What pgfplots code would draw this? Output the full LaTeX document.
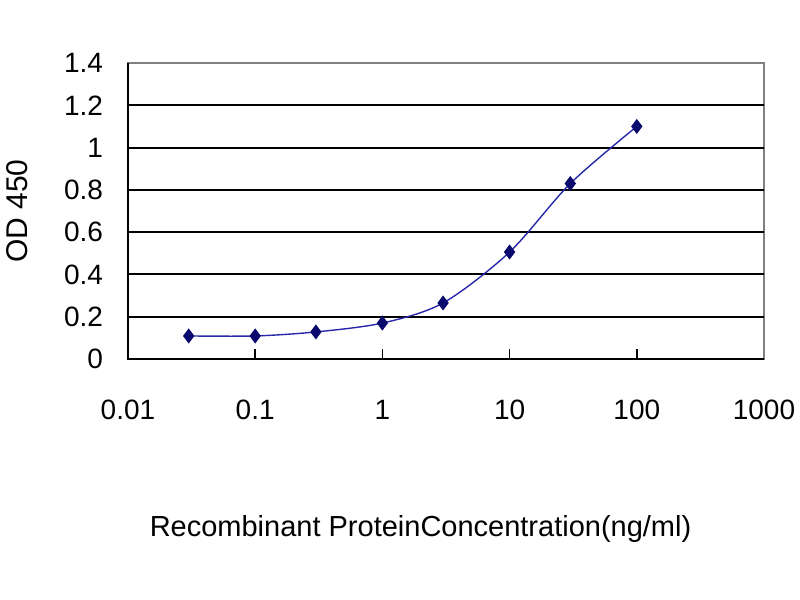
\documentclass[border=0pt]{standalone}
\usepackage{fontspec}
\setmainfont{Liberation Sans}
\usepackage{pgfplots}
\pgfplotsset{compat=1.18}
\definecolor{curve}{RGB}{40,40,170}
\definecolor{marker}{RGB}{10,10,110}
\begin{document}
\begin{tikzpicture}
\useasboundingbox (0,0) rectangle (400pt,300pt);
\begin{axis}[
    at={(64pt,120.5pt)}, anchor=south west,
    scale only axis, width=318pt, height=148pt,
    xmode=log, xmin=0.01, xmax=1000,
    ymin=0, ymax=1.4,
    xtick={0.01,0.1,1,10,100,1000},
    xticklabels={0.01,0.1,1,10,100,1000},
    ytick={0,0.2,0.4,0.6,0.8,1,1.2,1.4},
    minor tick length=0pt,
    extra y ticks={0.2,0.4,0.6,0.8,1,1.2},
    extra y tick labels={},
    extra y tick style={grid=major, tick style={draw=none}},
    major grid style={black, line width=1pt},
    major tick length=5pt,
    x tick style={black, line width=0.8pt},
    y tick style={draw=none},
    tick align=inside,
    xtick pos=bottom, ytick pos=left,
    axis line style={gray, line width=0.6pt},
    /pgf/number format/assume math mode=true,
    tick label style={font=\fontsize{14}{16}\selectfont},
    xticklabel style={yshift=-17pt},
    yticklabel style={xshift=-9pt},
    xlabel={Recombinant ProteinConcentration(ng/ml)},
    xlabel style={at={(axis description cs:0.46,0)}, anchor=center, yshift=-85pt, font=\fontsize{14.5}{16}\selectfont},
    ylabel={OD 450},
    ylabel style={at={(axis description cs:0,0.5)}, anchor=center, yshift=55.5pt, font=\fontsize{15}{17}\selectfont},
    clip=false,
]
\draw[black, line width=1pt] (rel axis cs:0,1) -- (rel axis cs:0,0) -- (rel axis cs:1,0);
\addplot[curve, line width=0.7pt, smooth, tension=0.5, mark=diamond*, mark size=3.2pt,
    mark options={fill=marker, draw=marker}] coordinates {
    (0.03,0.109) (0.1,0.109) (0.3,0.128) (1,0.17)
    (3,0.265) (10,0.506) (30,0.83) (100,1.10)
};
\end{axis}
\end{tikzpicture}
\end{document}
